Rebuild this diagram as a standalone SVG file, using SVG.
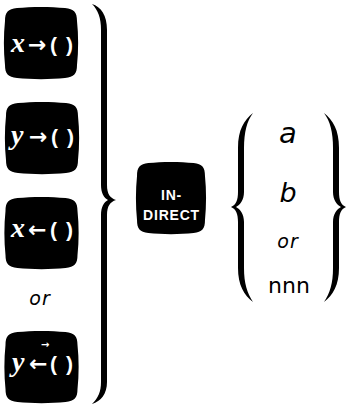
<svg xmlns="http://www.w3.org/2000/svg" xmlns:xlink="http://www.w3.org/1999/xlink" width="346" height="407" viewBox="0 0 346 407">
<style>
.key{fill:#000}
.kt{fill:#fff}
.sx{font-family:"Liberation Serif",serif;font-style:italic;font-weight:bold;font-size:28px}
.ar{font-family:"DejaVu Sans",sans-serif;font-size:22px;font-weight:bold}
.pa{font-family:"Liberation Sans",sans-serif;font-size:21px;font-weight:bold}
.ind{font-family:"Liberation Sans",sans-serif;font-size:14px;font-weight:bold;letter-spacing:0.8px;text-anchor:middle}
.it{font-family:"DejaVu Sans",sans-serif;font-style:italic;fill:#000;text-anchor:middle}
.rg{font-family:"DejaVu Sans",sans-serif;fill:#000;text-anchor:middle}
.br{fill:#000}
</style>
<defs>
<path id="keyshape" d="M -24,-35 C -10,-36.5 10,-36.5 24,-35 C 33,-34 36,-31 36,-22 C 37.5,-8 37.5,8 36,22 C 36,31 33,34 24,35 C 10,36.5 -10,36.5 -24,35 C -33,34 -36,31 -36,22 C -37.5,8 -37.5,-8 -36,-22 C -36,-31 -33,-34 -24,-35 Z"/>
<path id="lbrace" d="M 253,113 C 244,120 238,130 238,148 L 238,192 C 238,200 236,205 231,207 C 236,209 238,214 238,222 L 238,268 C 238,285 244,295 253,302 C 247,293 244,283 244,268 L 244,222 C 244,214 240,209 236,207 C 240,205 244,200 244,192 L 244,148 C 244,132 247,121 253,113 Z"/>
</defs>

<g id="key-x-to">
<use xlink:href="#keyshape" class="key" transform="translate(41,43)"/>
<text class="kt" y="52"><tspan class="sx" x="11">x</tspan><tspan class="ar" x="28">→</tspan><tspan class="pa" x="50">(</tspan><tspan class="pa" x="66">)</tspan></text>
</g>

<g id="key-y-to">
<use xlink:href="#keyshape" class="key" transform="translate(42,138)"/>
<text class="kt" y="144"><tspan class="sx" x="11">y</tspan><tspan class="ar" x="29">→</tspan><tspan class="pa" x="51">(</tspan><tspan class="pa" x="67">)</tspan></text>
</g>

<g id="key-x-from">
<use xlink:href="#keyshape" class="key" transform="translate(41.5,233)"/>
<text class="kt" y="237"><tspan class="sx" x="11">x</tspan><tspan class="ar" x="28">←</tspan><tspan class="pa" x="50">(</tspan><tspan class="pa" x="66">)</tspan></text>
</g>

<g id="or-left">
<text class="it" x="40" y="305" font-size="19" letter-spacing="1">or</text>
</g>

<g id="key-y-exch">
<use xlink:href="#keyshape" class="key" transform="translate(41.5,367)"/>
<text class="kt" y="371"><tspan class="sx" x="12">y</tspan><tspan class="ar" x="29">←</tspan><tspan class="pa" x="50">(</tspan><tspan class="pa" x="66">)</tspan></text>
<text class="kt" x="41" y="348" font-family="DejaVu Sans, sans-serif" font-size="10" font-weight="bold">→</text>
</g>

<g id="braces">
<path class="br" d="M 92,4 C 101,7 107,15 107,30 L 107,185 C 107,194 110,198 116,200 C 110,202 107,206 107,215 L 107,382 C 107,394 101,401 92,404 C 98,398 101,392 101,382 L 101,215 C 101,207 104,202 108,200 C 104,198 101,193 101,185 L 101,30 C 101,18 98,10 92,4 Z"/>
<use xlink:href="#lbrace" class="br"/>
<use xlink:href="#lbrace" class="br" transform="translate(577,0) scale(-1,1)"/>
</g>

<g id="key-indirect">
<use xlink:href="#keyshape" class="key" transform="translate(171,198) scale(0.944,1)"/>
<text class="kt ind" x="171.5" y="200">IN-</text>
<text class="kt ind" x="171.5" y="220">DIRECT</text>
</g>

<g id="options">
<text class="it" x="288" y="143" font-size="29">a</text>
<text class="it" x="288" y="202" font-size="27">b</text>
<text class="it" x="288" y="248" font-size="19" letter-spacing="1">or</text>
<text class="rg" x="289" y="293" font-size="22">nnn</text>
</g>
</svg>
